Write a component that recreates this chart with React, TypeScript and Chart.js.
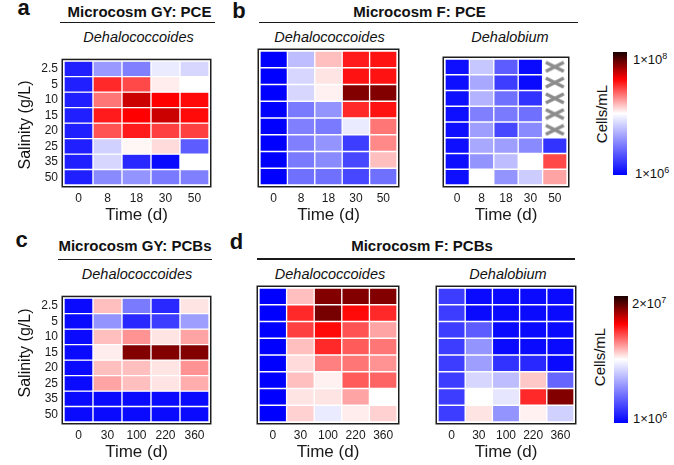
import React, { useEffect, useRef } from "react";
import { Chart, registerables } from "chart.js";

Chart.register(...registerables);

const FONT = "'Liberation Sans', Arial, Helvetica, sans-serif";

// categories
const salinity = ["2.5", "5", "10", "15", "20", "25", "35", "50"];
const pceTimes = ["0", "8", "18", "30", "50"];
const pcbTimes = ["0", "30", "100", "220", "360"];

// values: position on the colour scale (0 = 1×10^6 cells/mL, 1 = top of the colour bar)
// rows = salinity (2.5 … 50 g/L), columns = time; null = not measured (X)
const gyPceDhc = [
  [0.06, 0.30, 0.25, 0.46, 0.42],
  [0.06, 0.735, 0.70, 0.52, 0.50],
  [0.06, 0.65, 0.83, 0.78, 0.77],
  [0.06, 0.75, 0.78, 0.83, 0.77],
  [0.06, 0.69, 0.75, 0.71, 0.71],
  [0.06, 0.41, 0.51, 0.54, 0.18],
  [0.06, 0.42, 0.08, 0.02, 0.50],
  [0.06, 0.27, 0.29, 0.24, 0.25],
];
const fPceDhc = [
  [0, 0.37, 0.57, 0.75, 0.76],
  [0, 0.42, 0.53, 0.76, 0.76],
  [0, 0.42, 0.515, 0.90, 0.90],
  [0, 0.24, 0.29, 0.735, 0.76],
  [0, 0.25, 0.24, 0.46, 0.65],
  [0, 0.25, 0.29, 0.12, 0.63],
  [0, 0.24, 0.27, 0.14, 0.57],
  [0, 0.22, 0.22, 0.14, 0.22],
];
const fPceDhb = [
  [0.03, 0.39, 0.18, 0.02, null],
  [0.03, 0.33, 0.12, 0.02, null],
  [0.03, 0.35, 0.22, 0.10, null],
  [0.03, 0.25, 0.24, 0.22, null],
  [0.03, 0.31, 0.14, 0.27, null],
  [0.03, 0.33, 0.31, 0.27, 0.10],
  [0.03, 0.29, 0.37, 0.50, 0.70],
  [0.03, 0.50, 0.29, 0.40, 0.60],
];
const gyPcbDhc = [
  [0.02, 0.57, 0.24, 0.08, 0.53],
  [0.02, 0.29, 0.08, 0.12, 0.31],
  [0.02, 0.57, 0.62, 0.53, 0.60],
  [0.02, 0.52, 0.90, 0.90, 0.90],
  [0.02, 0.57, 0.57, 0.53, 0.62],
  [0.02, 0.60, 0.57, 0.53, 0.59],
  [0.02, 0.02, 0.02, 0.02, 0.02],
  [0.02, 0.02, 0.02, 0.02, 0.02],
];
const fPcbDhc = [
  [0, 0.57, 0.90, 0.90, 0.90],
  [0, 0.735, 0.91, 0.77, 0.735],
  [0, 0.71, 0.77, 0.69, 0.60],
  [0, 0.57, 0.735, 0.68, 0.65],
  [0, 0.54, 0.64, 0.65, 0.62],
  [0, 0.57, 0.515, 0.68, 0.67],
  [0, 0.53, 0.53, 0.60, 0.50],
  [0, 0.55, 0.46, 0.52, 0.55],
];
const fPcbDhb = [
  [0.12, 0.02, 0.02, 0.02, 0.02],
  [0.12, 0.02, 0.02, 0.02, 0.02],
  [0.12, 0.18, 0.02, 0.02, 0.02],
  [0.12, 0.29, 0.02, 0.02, 0.02],
  [0.12, 0.31, 0.10, 0.08, 0.02],
  [0.12, 0.42, 0.37, 0.56, 0.20],
  [0.12, 0.50, 0.45, 0.735, 0.90],
  [0.12, 0.53, 0.29, 0.515, 0.41],
];

// colour map: blue -> white -> red -> near black
const STOPS: [number, number[]][] = [
  [0, [0, 0, 255]],
  [0.5, [255, 255, 255]],
  [0.78, [255, 0, 0]],
  [1, [25, 0, 0]],
];
function cmap(t: number): string {
  const v = Math.max(0, Math.min(1, t));
  for (let i = 0; i < STOPS.length - 1; i++) {
    const [a, ca] = STOPS[i];
    const [b, cb] = STOPS[i + 1];
    if (v >= a && v <= b) {
      const f = (v - a) / (b - a);
      const c = ca.map((x, k) => Math.round(x + (cb[k] - x) * f));
      return `rgb(${c[0]},${c[1]},${c[2]})`;
    }
  }
  return "rgb(25,0,0)";
}
const GRADIENT =
  "linear-gradient(to top, rgb(0,0,255) 0%, rgb(255,255,255) 50%, rgb(255,0,0) 78%, rgb(25,0,0) 100%)";

function makeX(): HTMLCanvasElement {
  const c = document.createElement("canvas");
  c.width = 22;
  c.height = 13;
  const g = c.getContext("2d")!;
  g.strokeStyle = "#8c8c8c";
  g.lineWidth = 3.6;
  g.beginPath();
  g.moveTo(2, 2);
  g.lineTo(20, 11);
  g.moveTo(2, 11);
  g.lineTo(20, 2);
  g.stroke();
  return c;
}

const framePlugin = {
  id: "frame",
  afterDraw(chart: any) {
    const { ctx, chartArea: a } = chart;
    ctx.save();
    ctx.strokeStyle = "#1e1e1e";
    ctx.lineWidth = 1.5;
    ctx.strokeRect(a.left - 1.75, a.top - 1.75, a.right - a.left + 3.5, a.bottom - a.top + 3.5);
    ctx.restore();
  },
};

type PanelCfg = {
  left: number;
  top: number;
  width: number;
  height: number;
  times: string[];
  values: (number | null)[][];
  showY: boolean;
};

const XH = 41;

function Heatmap({ cfg }: { cfg: PanelCfg }) {
  const ref = useRef<HTMLCanvasElement>(null);
  const L = cfg.showY ? 45 : 0;
  const cw = cfg.width + L;
  const ch = cfg.height - 3 + XH;
  useEffect(() => {
    const rows = cfg.values;
    const datasets: any[] = rows.map((row, r) => ({
      type: "bar",
      data: row.map((v) => (v === null ? null : [r, r + 1])),
      backgroundColor: row.map((v) => (v === null ? "rgba(0,0,0,0)" : cmap(v))),
      borderColor: "#ffffff",
      borderWidth: 1,
      borderSkipped: false,
      barPercentage: 1,
      categoryPercentage: 1,
      grouped: false,
      order: 2,
    }));
    const marks: { x: string; y: number }[] = [];
    rows.forEach((row, r) =>
      row.forEach((v, c) => {
        if (v === null) marks.push({ x: cfg.times[c], y: r + 0.5 });
      })
    );
    if (marks.length) {
      datasets.push({
        type: "line",
        data: marks,
        showLine: false,
        pointStyle: makeX(),
        pointRadius: 10,
        order: 0,
      });
    }
    const chart = new Chart(ref.current!, {
      type: "bar",
      data: { labels: cfg.times, datasets },
      plugins: [framePlugin],
      options: {
        animation: false,
        responsive: false,
        events: [],
        layout: { padding: { top: 3, bottom: 0, left: cfg.showY ? 0 : 3, right: 3 } },
        plugins: { legend: { display: false }, tooltip: { enabled: false } },
        scales: {
          x: {
            type: "category",
            offset: true,
            grid: { display: false, drawTicks: false },
            border: { display: false },
            ticks: {
              color: "#1a1a1a",
              font: { size: 12, family: FONT },
              padding: 6,
              maxRotation: 0,
              autoSkip: false,
            },
            title: {
              display: true,
              text: "Time (d)",
              color: "#1a1a1a",
              font: { size: 17, family: FONT },
              padding: { top: 0, bottom: 0 },
            },
            afterFit: (s: any) => {
              s.height = XH;
            },
          },
          y: {
            type: "linear",
            min: 0,
            max: 8,
            reverse: true,
            display: cfg.showY,
            grid: { display: false, drawTicks: false },
            border: { display: false },
            ticks: {
              color: "#1a1a1a",
              font: { size: 12, family: FONT },
              padding: 6,
              autoSkip: false,
              callback: (_v: any, i: number) => salinity[i],
            },
            afterBuildTicks: (s: any) => {
              s.ticks = salinity.map((_, i) => ({ value: i + 0.5 }));
            },
            afterFit: (s: any) => {
              s.width = L + 3;
            },
          },
        },
      } as any,
    });
    return () => chart.destroy();
  }, []);
  return (
    <canvas
      ref={ref}
      width={cw}
      height={ch}
      style={{ position: "absolute", left: cfg.left - L, top: cfg.top, width: cw, height: ch }}
    />
  );
}

const T = ({ x, y, children, style }: any) => (
  <div
    style={{
      position: "absolute",
      left: x,
      top: y,
      transform: "translate(-50%,-50%)",
      whiteSpace: "nowrap",
      lineHeight: 1,
      fontFamily: FONT,
      color: "#111",
      ...style,
    }}
  >
    {children}
  </div>
);

const HLine = ({ x1, x2, y }: any) => (
  <div style={{ position: "absolute", left: x1, top: y - 0.75, width: x2 - x1, height: 1.5, background: "#1a1a1a" }} />
);

const Sci = ({ base, exp }: any) => (
  <span>
    {base}
    <span style={{ fontSize: 9, position: "relative", top: -5 }}>{exp}</span>
  </span>
);

const panels: PanelCfg[] = [
  { left: 61, top: 48, width: 151, height: 140, times: pceTimes, values: gyPceDhc, showY: true },
  { left: 254, top: 48, width: 146, height: 140, times: pceTimes, values: fPceDhc, showY: false },
  { left: 434, top: 48, width: 144, height: 140, times: pceTimes, values: fPceDhb, showY: false },
  { left: 61, top: 285, width: 151, height: 140, times: pcbTimes, values: gyPcbDhc, showY: true },
  { left: 253, top: 285, width: 147, height: 140, times: pcbTimes, values: fPcbDhc, showY: false },
  { left: 432, top: 285, width: 145, height: 140, times: pcbTimes, values: fPcbDhb, showY: false },
];

export default function App() {
  const title = { fontWeight: "bold", fontSize: 15 };
  const sub = { fontStyle: "italic", fontSize: 14.5 };
  const letter = { fontWeight: "bold", fontSize: 22 };
  const axisT = { fontSize: 16, transform: "translate(-50%,-50%) rotate(-90deg)" };
  const cb = { fontSize: 15, transform: "translate(-50%,-50%) rotate(-90deg)" };
  const cbl = { fontSize: 13, transform: "translate(0,-50%)" };
  return (
    <div style={{ position: "absolute", left: 0, top: 0, width: 674, height: 465, overflow: "hidden", background: "#fff" }}>
      {panels.map((p, i) => (
        <Heatmap key={i} cfg={p} />
      ))}

      <T x={23.5} y={7.5} style={letter}>a</T>
      <T x={239} y={10.5} style={letter}>b</T>
      <T x={21.5} y={239.5} style={letter}>c</T>
      <T x={236.5} y={242} style={letter}>d</T>

      <T x={139.5} y={10.5} style={title}>Microcosm GY: PCE</T>
      <T x={419.5} y={10.5} style={title}>Microcosm F: PCE</T>
      <T x={135} y={245} style={title}>Microcosm GY: PCBs</T>
      <T x={422} y={245} style={title}>Microcosm F: PCBs</T>
      <HLine x1={60} x2={215} y={22.7} />
      <HLine x1={259} x2={578} y={22.5} />
      <HLine x1={58} x2={212} y={259.5} />
      <HLine x1={257} x2={575} y={259} />

      <T x={138.5} y={37} style={sub}>Dehalococcoides</T>
      <T x={329.5} y={37} style={sub}>Dehalococcoides</T>
      <T x={510} y={37} style={sub}>Dehalobium</T>
      <T x={137} y={273.5} style={sub}>Dehalococcoides</T>
      <T x={330} y={273.5} style={sub}>Dehalococcoides</T>
      <T x={508} y={273.5} style={sub}>Dehalobium</T>

      <T x={24.5} y={125} style={axisT}>Salinity (g/L)</T>
      <T x={24.5} y={353} style={axisT}>Salinity (g/L)</T>

      <div style={{ position: "absolute", left: 613, top: 52, width: 14, height: 123, background: GRADIENT }} />
      <div style={{ position: "absolute", left: 614, top: 296, width: 14, height: 127, background: GRADIENT }} />
      <T x={601} y={114} style={cb}>Cells/mL</T>
      <T x={599} y={357} style={cb}>Cells/mL</T>
      <T x={633} y={59} style={cbl}><Sci base="1×10" exp="8" /></T>
      <T x={635} y={173} style={cbl}><Sci base="1×10" exp="6" /></T>
      <T x={632} y={303} style={cbl}><Sci base="2×10" exp="7" /></T>
      <T x={633} y={418} style={cbl}><Sci base="1×10" exp="6" /></T>
    </div>
  );
}
